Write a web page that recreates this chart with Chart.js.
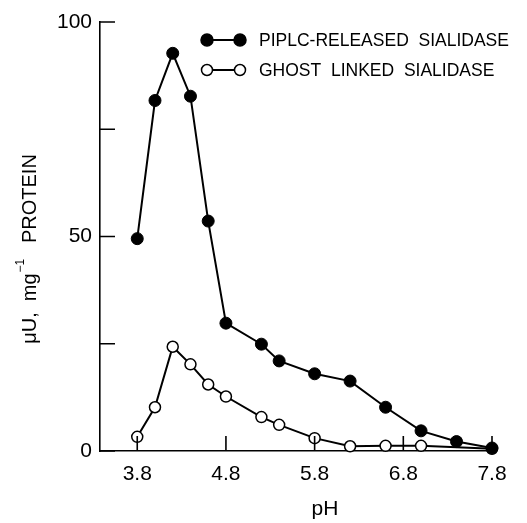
<!DOCTYPE html>
<html>
<head>
<meta charset="utf-8">
<script src="https://cdn.jsdelivr.net/npm/chart.js@4.4.0/dist/chart.umd.min.js"></script>
<style>
  html, body { margin: 0; padding: 0; background: #fff; }
  #wrap { width: 527px; height: 523px; }
</style>
</head>
<body>
<div id="wrap"><canvas id="chart" width="527" height="523"></canvas></div>
<script>
// pH values and activity (uU per mg protein)
const pipPh = [3.8, 4.0, 4.2, 4.4, 4.6, 4.8, 5.2, 5.4, 5.8, 6.2, 6.6, 7.0, 7.4, 7.8];
const pipActivity = [49.5, 81.7, 92.7, 82.7, 53.6, 29.8, 24.9, 21.0, 18.0, 16.3, 10.2, 4.7, 2.2, 0.7];
const ghostPh = [3.8, 4.0, 4.2, 4.4, 4.6, 4.8, 5.2, 5.4, 5.8, 6.2, 6.6, 7.0, 7.8];
const ghostActivity = [3.3, 10.2, 24.3, 20.2, 15.5, 12.7, 7.9, 6.1, 3.0, 1.1, 1.2, 1.2, 0.5];
const xTicks = [3.8, 4.8, 5.8, 6.8, 7.8];
const yTicks = [0, 25, 50, 75, 100];
const yLabels = [0, 50, 100];
const legendLabels = ['PIPLC-RELEASED  SIALIDASE', 'GHOST  LINKED  SIALIDASE'];

const FONT = 'Liberation Sans, DejaVu Sans, sans-serif';

function toPoints(xs, ys) {
    return xs.map((x, i) => ({ x: x, y: ys[i] }));
}

// inward tick marks, axis titles and the legend
const extras = {
    id: 'extras',
    afterDraw(chart) {
        const ctx = chart.ctx;
        const xs = chart.scales.x;
        const ys = chart.scales.y;
        const area = chart.chartArea;
        ctx.save();
        ctx.strokeStyle = '#000';
        ctx.lineWidth = 1.6;
        ctx.beginPath();
        yTicks.forEach(v => {
            const py = ys.getPixelForValue(v);
            ctx.moveTo(area.left, py);
            ctx.lineTo(area.left + 15, py);
        });
        xTicks.forEach(v => {
            const px = xs.getPixelForValue(v);
            ctx.moveTo(px, area.bottom);
            ctx.lineTo(px, area.bottom - 15);
        });
        ctx.stroke();

        ctx.fillStyle = '#000';
        // x title
        ctx.font = '21px ' + FONT;
        ctx.textAlign = 'center';
        ctx.textBaseline = 'middle';
        ctx.fillText('pH', 325, 509);

        // y title (rotated)
        ctx.save();
        ctx.translate(30, 249);
        ctx.rotate(-Math.PI / 2);
        ctx.font = '20px ' + FONT;
        const a = 'μU,  mg';
        const b = '−1';
        const c = '   PROTEIN';
        const wa = ctx.measureText(a).width;
        const wc = ctx.measureText(c).width;
        ctx.font = '12px ' + FONT;
        const wb = ctx.measureText(b).width;
        let x0 = -(wa + wb + wc) / 2;
        ctx.textAlign = 'left';
        ctx.font = '20px ' + FONT;
        ctx.fillText(a, x0, 0);
        ctx.font = '12px ' + FONT;
        ctx.fillText(b, x0 + wa + 1, -9);
        ctx.font = '20px ' + FONT;
        ctx.fillText(c, x0 + wa + wb, 0);
        ctx.restore();

        // legend
        const rows = [40, 70];
        rows.forEach((ry, i) => {
            const filled = i === 0;
            ctx.beginPath();
            ctx.moveTo(207, ry);
            ctx.lineTo(240, ry);
            ctx.lineWidth = 2;
            ctx.stroke();
            [207, 240].forEach(cx => {
                ctx.beginPath();
                ctx.arc(cx, ry, filled ? 6 : 5.5, 0, Math.PI * 2);
                ctx.fillStyle = filled ? '#000' : '#fff';
                ctx.fill();
                ctx.lineWidth = 1.5;
                ctx.stroke();
            });
            ctx.fillStyle = '#000';
            ctx.font = '17.5px ' + FONT;
            ctx.textAlign = 'left';
            ctx.fillText(legendLabels[i], 259, ry + 1);
        });
        ctx.restore();
    }
};

new Chart(document.getElementById('chart'), {
    type: 'scatter',
    data: {
        datasets: [{
            label: legendLabels[0],
            data: toPoints(pipPh, pipActivity),
            showLine: true,
            borderColor: '#000',
            backgroundColor: '#000',
            borderWidth: 2,
            pointRadius: 6,
            pointBorderWidth: 1,
            pointBackgroundColor: '#000',
            pointBorderColor: '#000',
            clip: false,
            order: 0
        }, {
            label: legendLabels[1],
            data: toPoints(ghostPh, ghostActivity),
            showLine: true,
            borderColor: '#000',
            backgroundColor: '#fff',
            borderWidth: 2,
            pointRadius: 5.5,
            pointBorderWidth: 1.5,
            pointBackgroundColor: '#fff',
            pointBorderColor: '#000',
            clip: false,
            order: 1
        }]
    },
    options: {
        responsive: false,
        animation: false,
        layout: { padding: { top: 22, right: 35, left: 0, bottom: 0 } },
        plugins: {
            legend: { display: false },
            tooltip: { enabled: false }
        },
        scales: {
            x: {
                type: 'linear',
                min: 3.38,
                max: 7.8,
                afterBuildTicks: scale => { scale.ticks = xTicks.map(v => ({ value: v })); },
                afterFit: scale => { scale.height = 72; },
                grid: { display: false, drawTicks: false },
                border: { display: true, color: '#000', width: 1.6 },
                ticks: {
                    color: '#000',
                    padding: 11,
                    font: { family: FONT, size: 21 },
                    maxRotation: 0,
                    callback: v => v.toFixed(1)
                }
            },
            y: {
                min: 0,
                max: 100,
                afterBuildTicks: scale => { scale.ticks = yLabels.map(v => ({ value: v })); },
                afterFit: scale => { scale.width = 100; },
                grid: { display: false, drawTicks: false },
                border: { display: true, color: '#000', width: 1.6 },
                ticks: {
                    color: '#000',
                    padding: 8,
                    font: { family: FONT, size: 21 }
                }
            }
        }
    },
    plugins: [extras]
});
</script>
</body>
</html>
